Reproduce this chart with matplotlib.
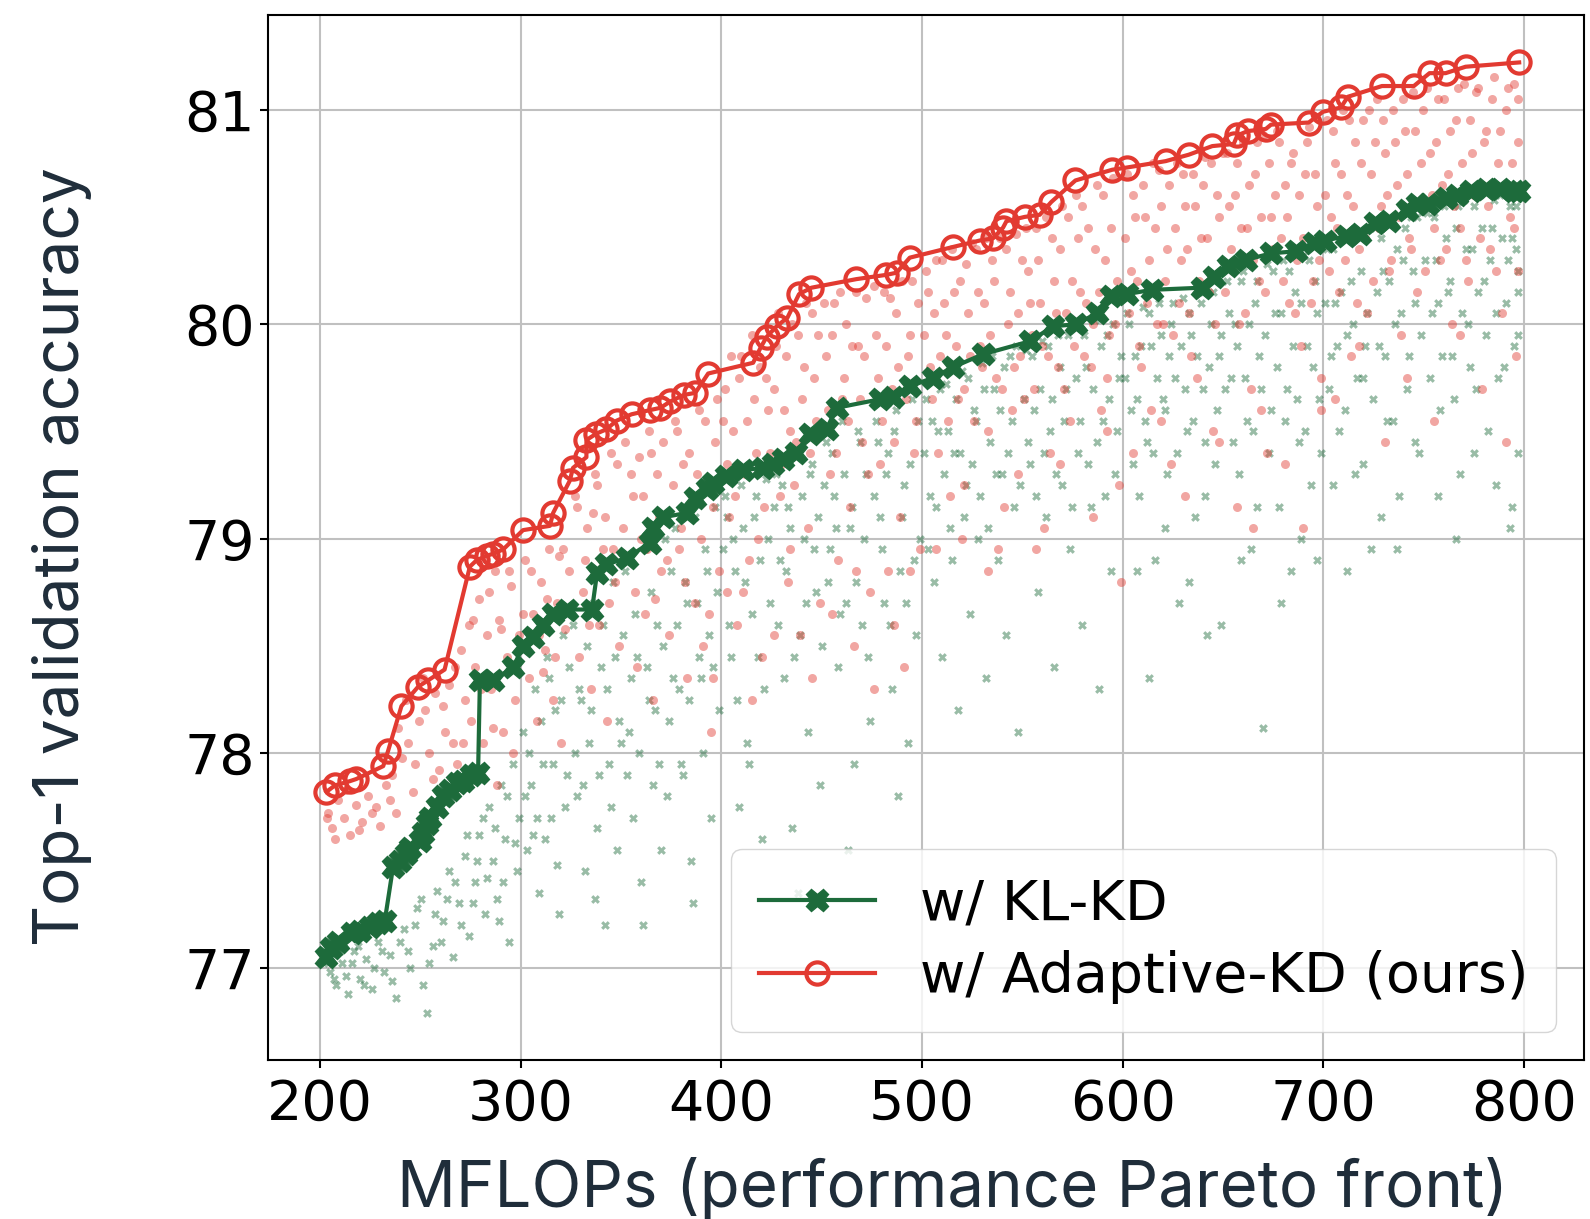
import matplotlib
matplotlib.use("Agg")
import matplotlib.pyplot as plt

# ---------------------------
# Pareto fronts (MFLOPs, top-1 accuracy)
# ---------------------------
kl_x = [203, 205.6, 209, 215.6, 219.7, 224.7, 228.9, 232.2, 236.3, 239.7, 243, 244.7,
        249.6, 251.3, 253, 254.6, 258, 261.3, 264.6, 268, 271.3, 275.4, 278.7, 279.6,
        286.2, 296.2, 301.1, 306, 311, 316.1, 323, 335.5, 338, 342.7, 352.7, 364.3, 366,
        371, 382.6, 386.7, 392.6, 395.9, 402.5, 410.8, 420.8, 425.8, 430.8, 437.4, 444,
        452.4, 457.4, 479, 485.6, 493.9, 505.5, 515.5, 530.5, 553.7, 565.4, 577, 587,
        594, 602, 614.5, 639.4, 645.6, 652.7, 661.6, 674, 686.5, 695.5, 700.8, 711.5,
        718.6, 725.7, 732.9, 741.7, 747, 752.4, 761.3, 766.6, 773.8, 781, 788, 795, 797.5]
kl_y = [77.05, 77.09, 77.12, 77.16, 77.17, 77.19, 77.21, 77.22, 77.47, 77.50, 77.53, 77.56,
        77.59, 77.63, 77.67, 77.70, 77.75, 77.80, 77.83, 77.86, 77.87, 77.90, 77.91, 78.34,
        78.34, 78.40, 78.50, 78.54, 78.60, 78.65, 78.67, 78.67, 78.84, 78.88, 78.91, 78.98, 79.05,
        79.10, 79.12, 79.19, 79.23, 79.26, 79.29, 79.32, 79.33, 79.35, 79.37, 79.40, 79.49,
        79.51, 79.61, 79.65, 79.66, 79.71, 79.75, 79.80, 79.86, 79.92, 79.99, 80.00, 80.05,
        80.13, 80.14, 80.16, 80.17, 80.22, 80.27, 80.30, 80.33, 80.34, 80.38, 80.39, 80.41,
        80.42, 80.47, 80.48, 80.53, 80.56, 80.56, 80.59, 80.60, 80.62, 80.63, 80.63, 80.62, 80.62]

ada_x = [203.1, 207.3, 214.8, 218, 231.4, 233.8, 240.5, 248.8, 253.8, 262, 274.6, 278,
         282.9, 286.2, 291.2, 301.1, 314.5, 316.1, 324.4, 326, 332.7, 332.7, 337.7, 342.7,
         347.7, 355.2, 364.6, 369.6, 374.6, 381.2, 387, 393.4, 415.8, 419.5, 422.5, 427.5,
         432.9, 438.7, 444.9, 467.3, 482.3, 487.3, 493.9, 515.5, 528.8, 535.4, 540.4, 542.1,
         551.2, 558.7, 564.5, 576.5, 594.9, 602, 621.5, 633, 644.7, 655.4, 657.2, 662.4,
         671.4, 674, 692.8, 699.9, 708.8, 712.3, 729.3, 745.2, 753, 761, 771, 797.7]
ada_y = [77.82, 77.85, 77.87, 77.88, 77.94, 78.01, 78.22, 78.31, 78.34, 78.39, 78.87, 78.90,
         78.92, 78.93, 78.95, 79.04, 79.06, 79.12, 79.27, 79.33, 79.38, 79.46, 79.49, 79.51,
         79.55, 79.58, 79.60, 79.61, 79.64, 79.67, 79.68, 79.77, 79.82, 79.89, 79.94, 79.99,
         80.03, 80.14, 80.17, 80.21, 80.23, 80.24, 80.31, 80.36, 80.39, 80.40, 80.45, 80.48,
         80.50, 80.51, 80.57, 80.67, 80.72, 80.73, 80.76, 80.79, 80.83, 80.84, 80.88, 80.90,
         80.91, 80.93, 80.94, 80.99, 81.01, 81.06, 81.11, 81.11, 81.17, 81.17, 81.20, 81.22]

# ---------------------------
# Sampled sub-networks (clouds, estimated from the picture)
# ---------------------------
ada_cloud = [
    (204, 77.72), (206, 77.65), (209, 77.78), (212, 77.70), (215, 77.62), (218, 77.76), (221, 77.68), (224, 77.80),
    (228, 77.75), (230, 77.66), (233, 77.85), (236, 77.90), (238, 77.72), (241, 77.98), (244, 78.05), (246, 77.82),
    (249, 78.15), (243, 78.25), (252, 78.20), (254, 78.00), (257, 78.28), (259, 77.92), (262, 78.10), (264, 78.32),
    (266, 78.05), (268, 77.95), (270, 78.48), (272, 78.25), (274, 78.60), (275, 78.15), (277, 78.40), (279, 78.72),
    (281, 78.05), (283, 78.55), (285, 78.30), (287, 78.85), (289, 78.62), (291, 78.10), (293, 78.45), (295, 78.78),
    (297, 78.25), (299, 78.55), (288, 77.85), (296, 78.00), (302, 78.90), (304, 78.35), (306, 78.65), (308, 78.15),
    (310, 78.80), (312, 78.48), (314, 78.95), (316, 78.25), (318, 78.70), (320, 78.05), (322, 78.58), (324, 78.85),
    (311, 78.38), (319, 78.92), (327, 79.20), (329, 78.45), (331, 78.75), (333, 79.05), (335, 78.30), (337, 79.30),
    (339, 78.60), (341, 78.95), (343, 78.15), (345, 79.40), (347, 78.80), (349, 78.50), (336, 79.12), (344, 78.70),
    (352, 79.45), (354, 78.90), (356, 79.20), (358, 78.40), (360, 79.00), (362, 78.65), (364, 79.50), (366, 78.25),
    (368, 79.30), (370, 78.85), (372, 79.10), (374, 78.55), (359, 79.38), (367, 78.72), (377, 79.55), (379, 78.95),
    (381, 79.35), (383, 78.35), (385, 79.15), (387, 78.70), (389, 79.60), (391, 78.50), (393, 79.25), (395, 78.10),
    (397, 79.45), (399, 78.85), (402, 79.70), (404, 79.10), (406, 79.50), (408, 78.60), (410, 79.85), (412, 79.30),
    (414, 78.90), (416, 79.65), (418, 79.00), (420, 78.45), (422, 79.75), (424, 79.40), (411, 78.75), (427, 79.90),
    (429, 79.20), (431, 79.60), (433, 78.80), (435, 80.00), (437, 79.45), (439, 78.55), (441, 79.80), (443, 79.05),
    (445, 80.05), (447, 79.55), (449, 78.70), (438, 79.95), (452, 79.85), (454, 79.30), (456, 80.10), (458, 78.90),
    (460, 79.65), (462, 80.00), (464, 79.15), (466, 78.50), (468, 79.90), (470, 79.45), (472, 80.12), (474, 78.75),
    (477, 79.95), (479, 79.35), (481, 80.15), (483, 78.85), (485, 79.70), (487, 80.05), (489, 79.10), (491, 78.40),
    (493, 79.85), (495, 80.20), (497, 79.55), (499, 78.95), (502, 80.25), (504, 79.80), (506, 80.05), (508, 79.40),
    (510, 80.30), (512, 79.95), (514, 79.20), (516, 80.15), (518, 79.65), (520, 79.00), (522, 80.28), (524, 79.85),
    (527, 80.35), (529, 79.90), (531, 80.10), (533, 79.50), (535, 80.30), (537, 79.75), (539, 80.40), (541, 79.15),
    (543, 80.00), (545, 79.60), (547, 80.42), (549, 79.85), (538, 78.95), (552, 80.45), (554, 80.10), (556, 79.70),
    (558, 80.30), (560, 79.90), (562, 80.50), (564, 79.40), (566, 80.20), (568, 79.80), (570, 80.55), (572, 80.05),
    (574, 79.55), (561, 79.05), (577, 80.60), (579, 80.15), (581, 79.85), (583, 80.45), (585, 80.00), (587, 80.65),
    (589, 79.60), (591, 80.30), (593, 79.95), (595, 80.68), (597, 80.20), (599, 78.80), (598, 79.25), (602, 80.70),
    (604, 80.25), (606, 80.50), (608, 79.90), (610, 80.65), (612, 80.10), (614, 79.60), (616, 80.45), (618, 80.72),
    (620, 80.00), (622, 80.35), (624, 79.35), (627, 80.75), (629, 80.30), (631, 80.55), (633, 80.05), (635, 80.70),
    (637, 79.75), (639, 80.40), (641, 80.78), (643, 80.15), (645, 79.50), (647, 80.60), (649, 80.25), (652, 80.80),
    (654, 80.35), (656, 80.60), (658, 80.00), (660, 80.85), (662, 80.45), (664, 79.70), (666, 80.70), (668, 80.20),
    (670, 80.88), (672, 79.40), (674, 80.50), (665, 79.05), (677, 80.90), (679, 80.40), (681, 80.65), (683, 80.10),
    (685, 80.80), (687, 80.30), (689, 79.90), (691, 80.70), (693, 80.92), (695, 80.20), (697, 80.55), (699, 79.60),
    (702, 80.95), (704, 80.50), (706, 80.75), (708, 80.15), (710, 81.00), (712, 80.60), (714, 79.85), (716, 80.85),
    (718, 80.35), (720, 80.95), (722, 80.05), (724, 80.70), (727, 81.05), (729, 80.55), (731, 80.80), (733, 80.25),
    (735, 81.00), (737, 80.65), (739, 79.95), (741, 80.90), (743, 80.40), (745, 81.08), (747, 80.15), (749, 80.75),
    (752, 81.10), (754, 80.60), (756, 80.85), (758, 80.30), (760, 81.05), (762, 80.70), (764, 80.00), (766, 80.95),
    (768, 80.45), (770, 81.12), (772, 80.20), (774, 80.80), (777, 81.10), (779, 80.65), (781, 80.90), (783, 80.35),
    (785, 81.15), (787, 80.75), (789, 80.05), (791, 81.00), (793, 80.50), (795, 81.12), (797, 80.85), (797, 80.25),
    (796, 79.85),
    # second pass over the denser parts
    (203.5, 77.70), (207.5, 77.60), (213, 77.83), (219.5, 77.64), (226, 77.72), (235, 77.78), (239, 78.12), (247, 77.95),
    (251, 78.35), (256, 77.88), (261, 78.22), (267, 78.40), (271, 78.05), (276, 78.62), (280, 78.30), (284, 78.75),
    (286, 78.12), (290, 78.58), (294, 78.85), (298, 78.42), (301, 78.65), (305, 78.85), (309, 78.55), (313, 78.72),
    (317, 78.45), (321, 78.95), (325, 78.65), (328, 79.15), (332, 78.90), (334, 78.60), (338, 79.25), (342, 79.10),
    (346, 78.95), (348, 79.35), (351, 79.05), (355, 79.30), (357, 78.75), (361, 79.20), (363, 78.95), (365, 79.40),
    (369, 79.10), (371, 79.45), (373, 78.90), (376, 79.25), (378, 79.50), (380, 79.05), (382, 78.80), (384, 79.40),
    (388, 79.30), (390, 79.00), (392, 79.55), (394, 78.65), (396, 79.15), (398, 79.65), (401, 79.55), (403, 79.35),
    (405, 79.85), (407, 79.20), (409, 79.75), (413, 79.55), (415, 79.95), (417, 79.40), (419, 79.80), (421, 79.15),
    (423, 79.60), (426, 79.70), (428, 80.05), (430, 79.35), (432, 79.85), (434, 79.50), (436, 79.25), (440, 79.65),
    (442, 80.10), (444, 79.40), (446, 79.75), (448, 79.95), (450, 79.50), (451, 80.10), (453, 79.60), (455, 79.95),
    (457, 79.40), (459, 80.15), (461, 79.75), (463, 79.55), (465, 79.90), (467, 80.15), (469, 79.65), (471, 79.85),
    (473, 79.30), (476, 80.18), (478, 79.75), (480, 79.55), (482, 79.90), (484, 80.12), (486, 79.45), (488, 79.80),
    (490, 80.20), (492, 79.65), (494, 79.95), (496, 79.40), (498, 80.10), (396, 78.35), (403, 78.75), (415, 78.25),
    (426, 78.55), (434, 78.95), (445, 78.35), (455, 78.65), (467, 78.85), (476, 78.30), (486, 78.60), (494, 78.85),
    (501, 79.95), (503, 80.15), (505, 79.65), (507, 80.30), (509, 79.85), (511, 80.10), (513, 79.55), (515, 80.35),
    (517, 79.90), (519, 80.20), (521, 79.70), (523, 80.05), (525, 80.38), (526, 79.55), (528, 80.15), (530, 79.80),
    (532, 80.40), (534, 79.95), (536, 80.20), (540, 79.70), (542, 80.35), (544, 80.15), (546, 79.80), (548, 80.05),
    (550, 80.30), (551, 79.65), (553, 80.25), (555, 79.95), (557, 80.45), (559, 80.10), (563, 79.85), (565, 80.40),
    (567, 80.05), (569, 80.35), (571, 79.70), (573, 80.50), (575, 80.20), (576, 79.90), (578, 80.40), (580, 80.55),
    (582, 80.10), (584, 79.80), (586, 80.35), (588, 80.15), (590, 80.60), (592, 79.75), (594, 80.45), (596, 80.00),
    (507, 78.95), (521, 79.25), (533, 78.85), (548, 79.30), (557, 78.95), (569, 79.35), (585, 79.10), (592, 79.50),
    (601, 80.40), (603, 80.05), (605, 80.60), (607, 80.20), (609, 79.80), (611, 80.50), (613, 80.30), (615, 80.75),
    (617, 80.00), (619, 80.55), (621, 80.20), (623, 80.65), (625, 79.95), (626, 80.45), (628, 80.10), (630, 80.70),
    (632, 80.35), (634, 79.85), (636, 80.55), (638, 80.20), (640, 80.65), (642, 80.40), (644, 80.75), (646, 80.00),
    (648, 80.50), (650, 80.80), (651, 80.15), (653, 80.55), (655, 80.25), (657, 80.75), (659, 80.45), (661, 80.05),
    (663, 80.65), (665, 80.30), (667, 80.85), (669, 80.50), (671, 80.15), (673, 80.75), (675, 80.35), (676, 80.60),
    (678, 80.85), (680, 80.20), (682, 80.50), (684, 80.75), (686, 80.05), (688, 80.60), (690, 80.40), (692, 80.85),
    (694, 80.10), (696, 80.70), (698, 80.30), (605, 79.40), (619, 79.55), (631, 79.20), (648, 79.45), (657, 79.15),
    (669, 79.60), (681, 79.35), (690, 79.05), (699, 79.75), (701, 80.60), (703, 80.25), (705, 80.90), (707, 80.45),
    (709, 80.70), (711, 80.30), (713, 80.95), (715, 80.55), (717, 80.10), (719, 80.75), (721, 80.40), (723, 81.00),
    (725, 80.20), (726, 80.85), (728, 80.45), (730, 80.95), (732, 80.60), (734, 80.30), (736, 80.85), (738, 80.50),
    (740, 81.05), (742, 80.70), (744, 80.35), (746, 80.90), (748, 80.55), (750, 81.00), (751, 80.25), (753, 80.80),
    (755, 80.45), (757, 81.05), (759, 80.65), (761, 80.35), (763, 80.90), (765, 80.55), (767, 81.10), (769, 80.75),
    (771, 80.30), (773, 80.95), (775, 80.60), (776, 81.08), (778, 80.40), (780, 80.85), (782, 80.55), (784, 81.05),
    (786, 80.25), (788, 80.90), (790, 80.65), (792, 81.10), (794, 80.75), (795, 80.45), (797, 81.05), (797, 80.60),
    (706, 79.65), (718, 79.90), (731, 79.45), (742, 79.75), (755, 79.55), (768, 79.95), (779, 79.70), (791, 79.45),
]

kl_cloud = [
    (205, 76.98), (208, 76.92), (211, 77.02), (214, 76.88), (217, 77.08), (220, 76.95), (223, 77.04), (226, 76.90),
    (229, 77.12), (232, 76.98), (235, 77.06), (238, 76.86), (242, 77.18), (245, 77.00), (248, 77.28), (251, 76.92),
    (253, 76.79), (256, 77.10), (258, 77.36), (261, 77.22), (264, 77.45), (266, 77.05), (269, 77.30), (272, 77.52),
    (274, 77.15), (277, 77.40), (279, 77.62), (282, 77.25), (284, 77.75), (286, 77.50), (288, 77.32), (290, 77.85),
    (292, 77.60), (294, 77.12), (296, 77.95), (298, 77.45), (299, 77.70), (301, 78.10), (303, 77.55), (305, 77.85),
    (307, 78.30), (309, 77.35), (311, 77.95), (313, 78.45), (315, 77.70), (317, 78.20), (319, 77.25), (321, 78.55),
    (323, 77.90), (306, 77.62), (318, 77.48), (326, 78.60), (328, 77.80), (330, 78.25), (332, 77.45), (334, 78.05),
    (336, 78.70), (338, 77.65), (340, 78.40), (342, 77.20), (344, 77.95), (346, 78.80), (348, 77.55), (349, 78.15),
    (337, 77.32), (352, 78.85), (354, 78.10), (356, 77.70), (358, 78.45), (360, 77.40), (362, 78.95), (364, 78.25),
    (366, 77.85), (368, 78.60), (370, 77.55), (372, 79.00), (374, 78.15), (361, 77.20), (369, 77.95), (377, 79.05),
    (379, 78.30), (381, 77.90), (383, 78.70), (385, 77.50), (387, 79.10), (389, 78.45), (391, 78.00), (393, 78.85),
    (395, 77.70), (397, 79.15), (399, 78.20), (386, 77.30), (394, 78.55), (402, 79.20), (404, 78.60), (406, 79.00),
    (408, 78.25), (410, 79.25), (412, 78.80), (414, 77.95), (416, 79.10), (418, 78.45), (420, 77.60), (422, 79.28),
    (424, 78.70), (413, 78.05), (409, 77.75), (427, 79.30), (429, 78.90), (431, 78.35), (433, 79.15), (435, 77.65),
    (437, 79.40), (439, 78.55), (441, 79.00), (443, 78.10), (445, 79.35), (447, 78.75), (449, 77.85), (438, 77.35),
    (452, 79.45), (454, 78.95), (456, 79.20), (458, 78.40), (460, 79.55), (462, 78.70), (464, 79.05), (466, 77.95),
    (468, 79.50), (470, 78.60), (472, 79.30), (474, 78.15), (463, 77.55), (477, 79.55), (479, 79.10), (481, 78.70),
    (483, 79.40), (485, 78.30), (487, 79.60), (489, 78.85), (491, 79.25), (493, 78.05), (495, 79.65), (497, 78.55),
    (499, 79.00), (488, 77.80), (502, 79.65), (504, 79.20), (506, 78.80), (508, 79.50), (510, 78.45), (512, 79.72),
    (514, 79.05), (516, 79.40), (518, 78.20), (520, 79.78), (522, 79.25), (524, 78.65), (526, 79.60), (528, 79.00),
    (530, 79.82), (532, 78.35), (534, 79.45), (536, 79.70), (538, 78.90), (540, 79.30), (542, 78.55), (544, 79.85),
    (546, 79.15), (548, 78.10), (552, 79.88), (554, 79.35), (556, 79.60), (558, 78.75), (560, 79.92), (562, 79.10),
    (564, 79.50), (566, 78.40), (568, 79.95), (570, 79.25), (572, 79.70), (574, 78.95), (576, 80.00), (578, 79.40),
    (580, 78.60), (582, 79.80), (584, 79.15), (586, 80.02), (588, 78.30), (590, 79.55), (592, 79.95), (594, 78.85),
    (596, 79.30), (598, 79.75), (602, 80.05), (604, 79.60), (606, 79.85), (608, 79.20), (610, 80.08), (612, 79.45),
    (614, 79.90), (616, 78.90), (618, 80.10), (620, 79.65), (622, 79.30), (624, 80.00), (626, 79.75), (628, 78.70),
    (630, 80.12), (632, 79.50), (634, 79.95), (636, 79.10), (638, 80.15), (640, 79.70), (642, 78.55), (644, 80.00),
    (646, 79.35), (648, 79.85), (652, 80.20), (654, 79.75), (656, 80.00), (658, 79.30), (660, 80.25), (662, 79.55),
    (664, 78.95), (666, 80.10), (668, 79.85), (670, 78.12), (672, 80.28), (674, 79.60), (676, 80.05), (678, 79.15),
    (680, 80.30), (682, 79.70), (684, 78.85), (686, 80.15), (688, 79.45), (690, 80.32), (692, 79.90), (694, 79.25),
    (696, 80.20), (698, 79.65), (702, 80.35), (704, 79.85), (706, 80.10), (708, 79.50), (710, 80.40), (712, 79.95),
    (714, 80.20), (716, 79.30), (718, 80.42), (720, 79.75), (722, 80.05), (724, 78.95), (726, 80.45), (728, 79.90),
    (730, 80.25), (732, 79.55), (734, 80.48), (736, 80.00), (738, 79.20), (740, 80.30), (742, 79.70), (744, 80.50),
    (746, 80.10), (748, 79.40), (752, 80.52), (754, 80.05), (756, 80.30), (758, 79.60), (760, 80.55), (762, 80.15),
    (764, 79.85), (766, 80.45), (768, 79.30), (770, 80.58), (772, 80.00), (774, 80.35), (776, 79.70), (778, 80.60),
    (780, 80.20), (782, 79.50), (784, 80.45), (786, 80.05), (788, 80.60), (790, 79.80), (792, 80.30), (794, 79.15),
    (796, 80.55), (797, 79.95), (797, 79.40), (797, 80.25), (794, 80.40),
    # second pass over the denser parts
    (204, 77.02), (207, 76.95), (210, 77.08), (213, 76.96), (216, 77.02), (219, 77.10), (222, 76.92), (227, 77.00),
    (231, 77.08), (236, 76.94), (240, 77.12), (244, 77.08), (247, 77.20), (250, 77.32), (254, 77.02), (257, 77.25),
    (260, 77.12), (263, 77.32), (267, 77.40), (270, 77.20), (273, 77.62), (276, 77.30), (278, 77.50), (281, 77.70),
    (283, 77.42), (287, 77.65), (289, 77.22), (291, 77.40), (293, 77.80), (297, 77.58), (302, 77.80), (304, 78.00),
    (308, 77.70), (310, 78.15), (312, 77.60), (314, 78.35), (316, 77.95), (320, 78.25), (322, 77.75), (324, 78.40),
    (327, 78.00), (329, 78.30), (331, 77.85), (333, 78.50), (335, 78.20), (339, 77.90), (341, 78.60), (343, 78.30),
    (345, 77.75), (347, 78.45), (350, 78.05), (351, 78.55), (353, 77.90), (355, 78.35), (357, 78.65), (359, 78.00),
    (363, 78.40), (365, 78.75), (367, 78.20), (371, 78.50), (373, 77.80), (375, 78.85), (376, 78.35), (378, 78.60),
    (380, 77.95), (382, 78.80), (384, 78.25), (388, 78.70), (390, 78.35), (392, 78.95), (396, 78.40), (398, 78.75),
    (401, 78.95), (403, 79.10), (405, 78.45), (407, 78.85), (411, 79.05), (415, 78.65), (417, 79.20), (419, 78.90),
    (421, 78.30), (423, 79.00), (426, 79.15), (428, 78.60), (430, 79.25), (432, 78.85), (434, 79.05), (436, 78.45),
    (440, 79.20), (442, 78.70), (444, 79.30), (446, 78.95), (448, 79.10), (450, 78.50), (451, 79.25), (453, 78.80),
    (455, 79.40), (457, 79.05), (459, 78.65), (461, 79.30), (465, 79.15), (467, 78.80), (469, 79.45), (471, 79.00),
    (473, 78.45), (476, 79.20), (478, 79.45), (480, 78.95), (482, 79.30), (484, 78.60), (486, 79.50), (490, 79.10),
    (492, 78.70), (494, 79.35), (496, 78.90), (498, 79.55), (501, 79.40), (503, 78.95), (505, 79.55), (507, 79.15),
    (509, 79.70), (511, 79.30), (513, 79.50), (515, 78.90), (517, 79.65), (519, 79.40), (521, 79.10), (523, 79.75),
    (525, 79.35), (527, 79.55), (529, 79.20), (531, 79.70), (533, 79.05), (535, 79.85), (537, 79.30), (539, 79.60),
    (541, 79.80), (543, 79.40), (545, 79.55), (547, 79.90), (549, 79.25), (551, 79.65), (553, 79.45), (555, 79.85),
    (557, 79.20), (559, 79.70), (561, 79.40), (563, 79.90), (565, 79.65), (567, 79.30), (569, 79.80), (571, 79.55),
    (573, 79.95), (575, 79.15), (577, 79.75), (579, 79.55), (581, 79.95), (583, 79.35), (585, 79.70), (587, 79.45),
    (589, 79.90), (591, 79.20), (593, 79.65), (595, 80.00), (597, 79.50), (599, 79.85), (601, 79.75), (603, 80.00),
    (605, 79.35), (607, 79.65), (609, 79.90), (611, 79.55), (613, 80.05), (615, 79.40), (617, 79.75), (619, 79.95),
    (621, 79.60), (623, 79.85), (625, 80.10), (627, 79.40), (629, 79.90), (631, 79.70), (633, 80.05), (635, 79.55),
    (637, 79.85), (639, 80.10), (641, 79.45), (643, 79.80), (645, 80.15), (647, 79.60), (649, 79.95), (651, 79.70),
    (653, 80.05), (655, 79.45), (657, 79.90), (659, 80.20), (661, 79.75), (663, 80.00), (665, 79.50), (667, 80.20),
    (669, 79.70), (671, 79.95), (673, 79.40), (675, 80.25), (677, 79.80), (679, 80.05), (681, 79.55), (683, 80.25),
    (685, 79.90), (687, 79.65), (689, 80.10), (691, 79.50), (693, 80.30), (695, 79.80), (697, 80.05), (699, 79.40),
    (607, 78.85), (613, 78.35), (621, 79.05), (633, 78.80), (641, 79.20), (649, 78.60), (659, 78.90), (667, 79.15),
    (679, 78.70), (689, 79.00), (697, 78.90), (701, 80.10), (703, 79.70), (705, 80.35), (707, 79.90), (709, 80.15),
    (711, 79.60), (713, 80.40), (715, 80.00), (717, 79.75), (719, 80.25), (721, 79.90), (723, 80.45), (725, 79.65),
    (727, 80.15), (729, 80.40), (731, 79.85), (733, 80.20), (735, 79.55), (737, 80.35), (739, 80.05), (741, 80.45),
    (743, 79.85), (745, 80.25), (747, 80.50), (749, 79.95), (751, 80.30), (753, 79.75), (755, 80.50), (757, 80.10),
    (759, 79.85), (761, 80.40), (763, 80.20), (765, 79.65), (767, 80.55), (769, 80.05), (771, 80.35), (773, 79.80),
    (775, 80.55), (777, 80.15), (779, 80.45), (781, 79.95), (783, 80.30), (785, 80.58), (787, 79.75), (789, 80.40),
    (791, 80.10), (793, 80.55), (795, 79.90), (796, 80.35), (797, 80.15), (705, 79.25), (712, 78.85), (720, 79.35),
    (729, 79.10), (737, 78.95), (746, 79.45), (757, 79.20), (766, 79.00), (775, 79.40), (786, 79.25), (793, 79.05),
]

x_ticks = [200, 300, 400, 500, 600, 700, 800]
y_ticks = [77, 78, 79, 80, 81]

RED = "#e23a31"
GREEN = "#1d6b3b"
LABEL = "#1f2d3a"

fig = plt.figure(figsize=(15.9, 12.19), dpi=100)
ax = fig.add_axes([0.1686, 0.1304, 0.8276, 0.8571])

ax.scatter([p[0] for p in kl_cloud], [p[1] for p in kl_cloud], marker="X", s=40,
           color=GREEN, alpha=0.45, linewidths=0, zorder=2)
ax.scatter([p[0] for p in ada_cloud], [p[1] for p in ada_cloud], marker="o", s=42,
           color=RED, alpha=0.45, linewidths=0, zorder=2)

ax.plot(kl_x, kl_y, color=GREEN, lw=3, marker="X", ms=16, mec=GREEN, mfc=GREEN,
        label="w/ KL-KD", zorder=4)
ax.plot(ada_x, ada_y, color=RED, lw=3, marker="o", ms=16, mec=RED, mfc="none",
        mew=3, label="w/ Adaptive-KD (ours)", zorder=4)

ax.set_xlim(174, 830)
ax.set_ylim(76.57, 81.44)
ax.set_xticks(x_ticks)
ax.set_yticks(y_ticks)
ax.tick_params(labelsize=40, length=6, width=1.5)
ax.tick_params(axis="x", pad=7)
ax.grid(True, color="#c0c0c0", lw=1.5)
ax.set_axisbelow(True)
for s in ax.spines.values():
    s.set_linewidth(1.5)

ax.set_xlabel("MFLOPs (performance Pareto front)", fontsize=47, family="Inter",
              color=LABEL)
ax.set_ylabel("Top-1 validation accuracy", fontsize=46, family="Inter",
              color=LABEL)
ax.xaxis.set_label_coords(0.52, -0.093)
ax.yaxis.set_label_coords(-0.134, 0.482)

ax.legend(loc="lower right", fontsize=40, handlelength=2.1, framealpha=0.8,
          borderpad=0.5, labelspacing=0.35)

fig.savefig("out.png", dpi=100)
